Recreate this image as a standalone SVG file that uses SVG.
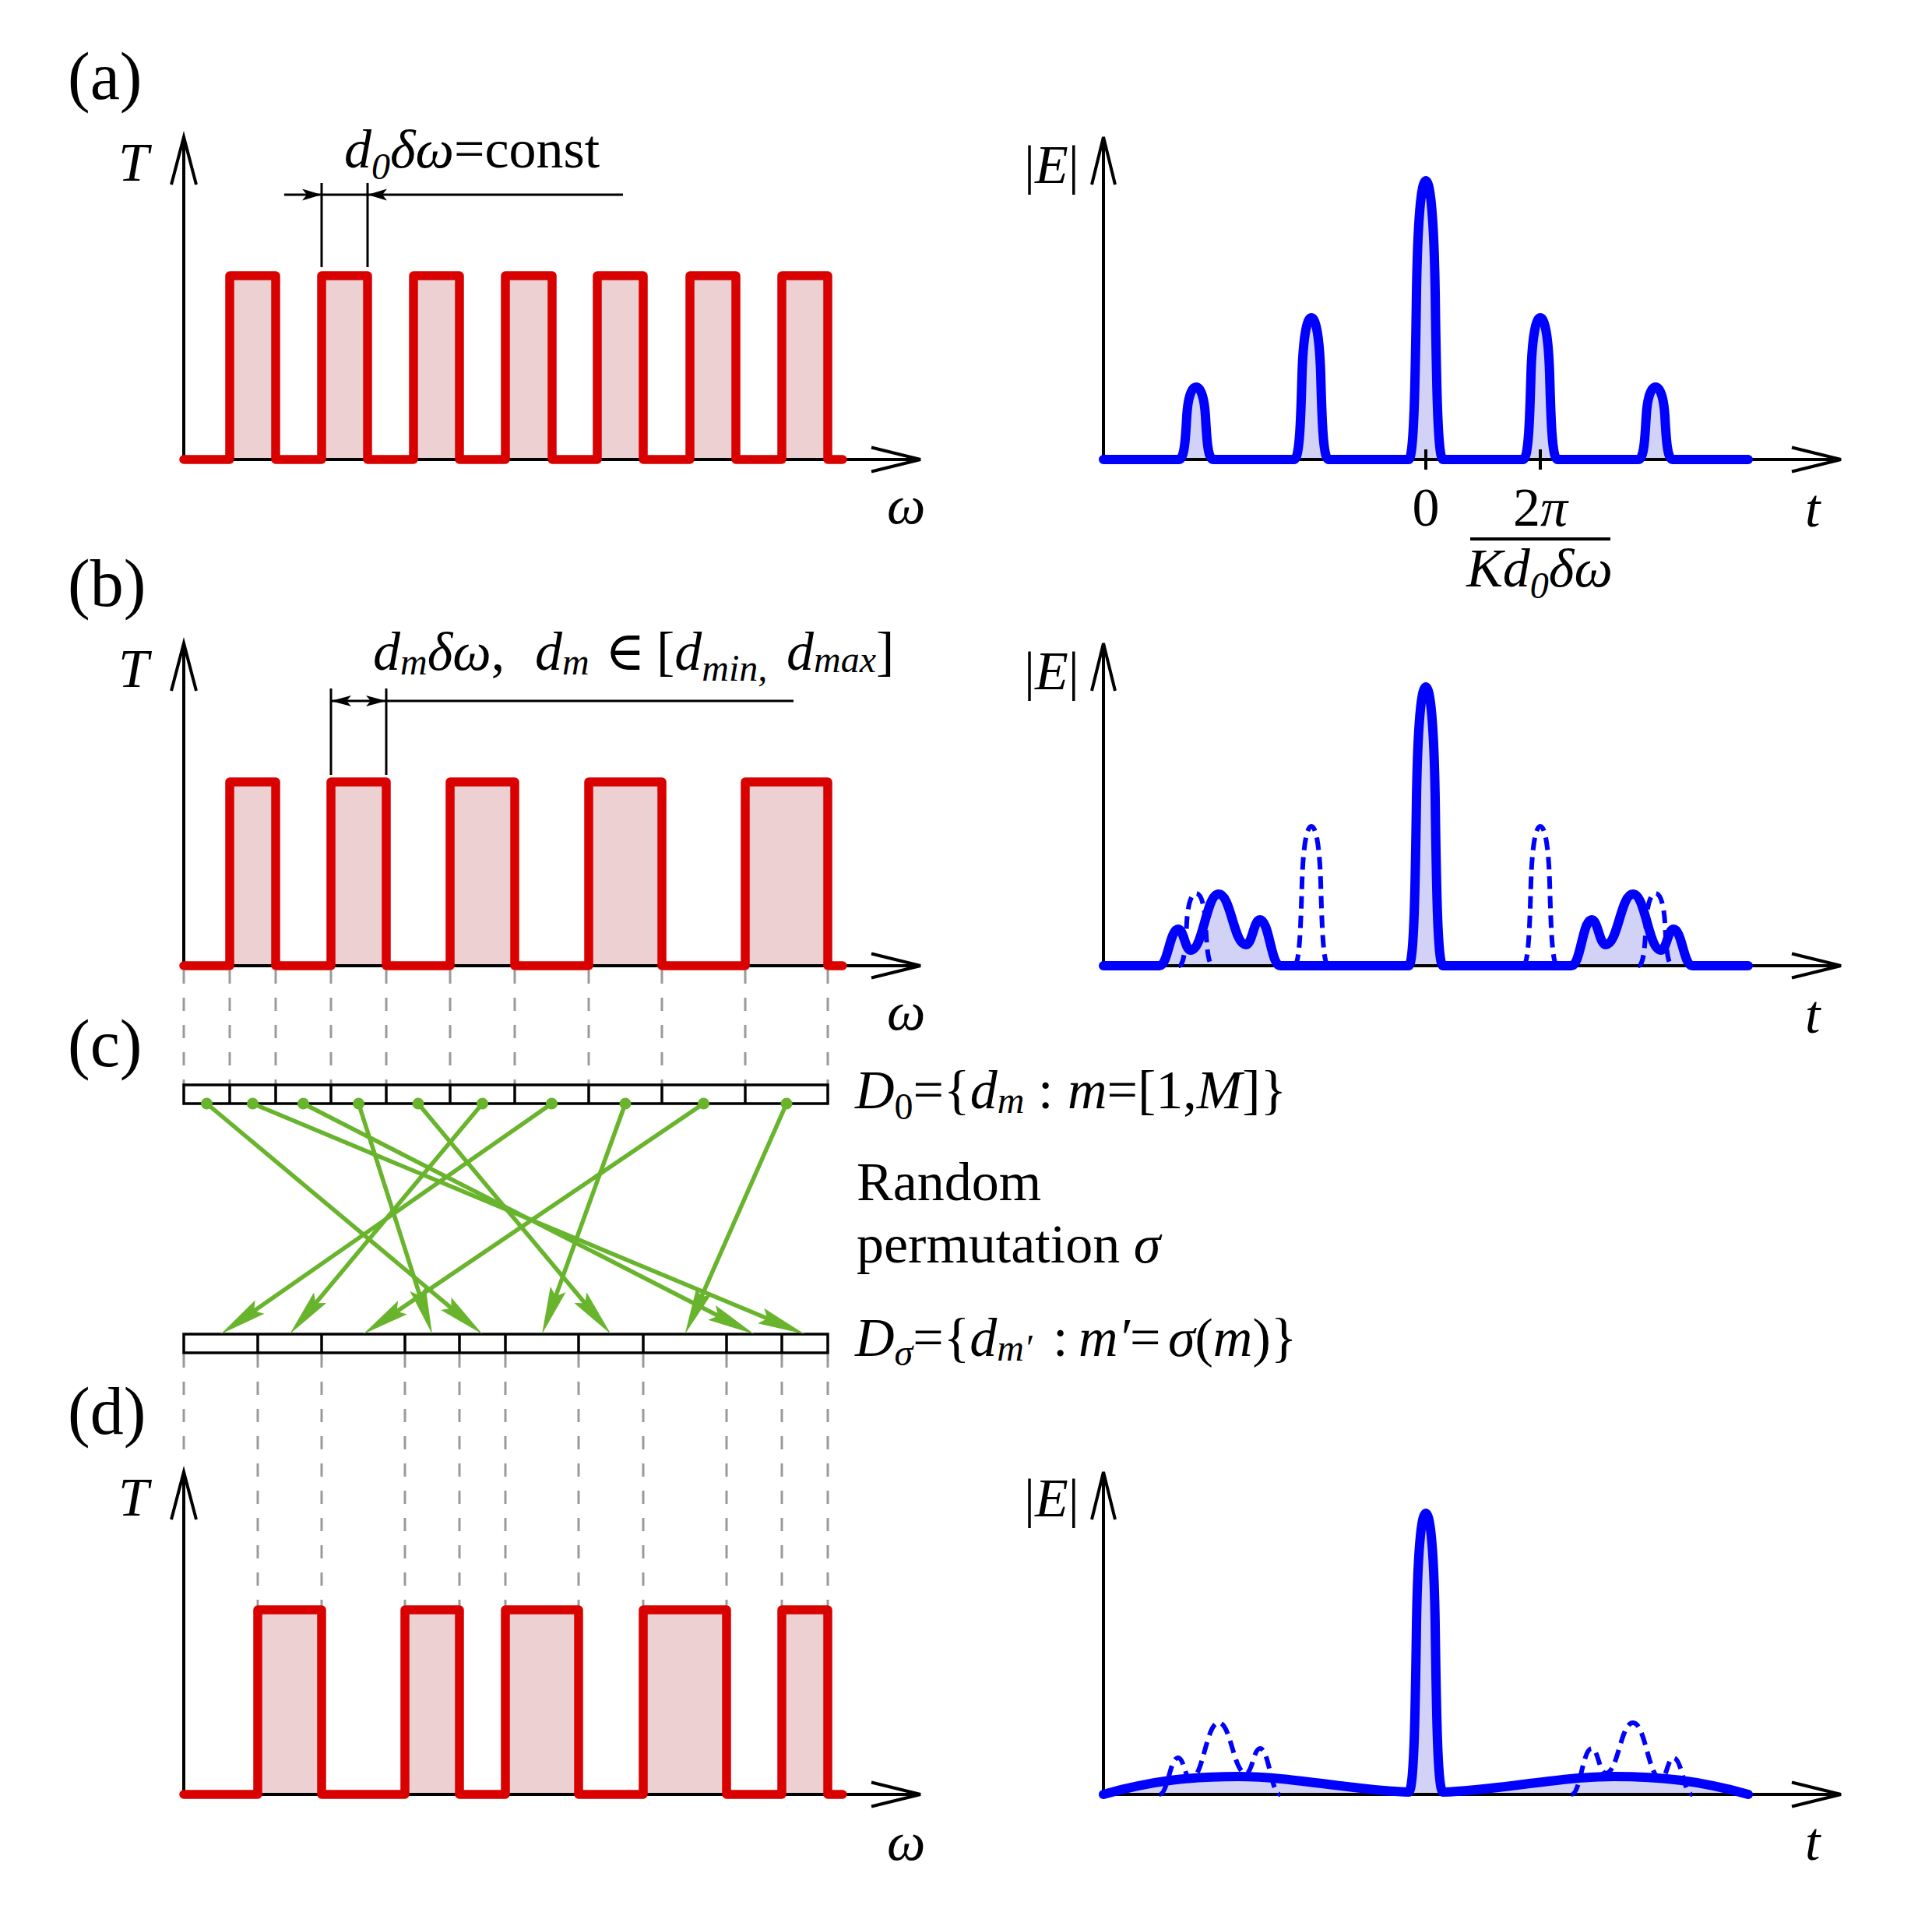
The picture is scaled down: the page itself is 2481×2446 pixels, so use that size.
<svg xmlns="http://www.w3.org/2000/svg" width="2481" height="2446" viewBox="0 0 2481 2446">
<style>
.lbl{font-family:"Liberation Serif","DejaVu Serif",serif;font-size:70px;fill:#000}
.it{font-style:italic}
.up{font-style:normal}
.sub{font-size:48px}
.pl{font-size:86px}
.ax{fill:none;stroke:#000;stroke-width:4}
.dim{fill:none;stroke:#000;stroke-width:3}
.redf{fill:#EDD0D2;stroke:none}
.red{fill:none;stroke:#D90000;stroke-width:11.5;stroke-linejoin:round;stroke-linecap:round}
.bluef{fill:#D2D2F7;stroke:none}
.blue{fill:none;stroke:#0000FF;stroke-width:12;stroke-linejoin:round;stroke-linecap:round}
.bdash{fill:none;stroke:#0000FF;stroke-width:6;stroke-dasharray:16 9}
.gdash{fill:none;stroke:#9A9A9A;stroke-width:3;stroke-dasharray:17 18}
.box{fill:none;stroke:#000;stroke-width:3.5}
.garrow{fill:none;stroke:#69B42D;stroke-width:5.5;marker-end:url(#ga)}
.dot{fill:#69B42D}
</style>
<defs>
<marker id="ga" markerUnits="userSpaceOnUse" orient="auto" viewBox="-60 -60 120 120" markerWidth="120" markerHeight="120" refX="0" refY="0">
<path d="M48,0 L-13,-10.5 L-4,0 L-13,10.5 Z" fill="#69B42D"/>
</marker>
<g id="axL">
<path class="ax" d="M236,590 V176 M220,237 L236,176 L252,237 M236,590 H1182 M1119,574.5 L1182,590 L1119,605.5"/>
</g>
<g id="axR">
<path class="ax" d="M1417,590 V176 M1402,237 L1417,176 L1432,237 M1417,590 H2364 M2301,574.5 L2364,590 L2301,605.5"/>
</g>
</defs>

<!-- panel labels -->
<g id="labels">
<text class="lbl pl" x="87" y="127">(a)</text>
<text class="lbl pl" x="87" y="778">(b)</text>
<text class="lbl pl" x="87" y="1369">(c)</text>
<text class="lbl pl" x="87" y="1841">(d)</text>
</g>

<!-- gray projection lines -->
<g id="projections">
<path class="gdash" d="M236,1246V1393 M295,1246V1393 M354,1246V1393 M425,1246V1393 M496,1246V1393 M578,1246V1393 M661,1246V1393 M756,1246V1393 M850,1246V1393 M957,1246V1393 M1063,1246V1393"/>
<path class="gdash" d="M236,1739V1863 M331,1739V2067 M413,1739V2067 M520,1739V2067 M590,1739V2067 M649,1739V2067 M743,1739V2067 M826,1739V2067 M933,1739V2067 M1004,1739V2067 M1063,1739V2067"/>
</g>

<!-- Panel (a) left -->
<g id="a-T">
<path class="redf" d="M236,590 H295 V354 H354 V590 H413 V354 H472 V590 H531 V354 H590 V590 H649 V354 H709 V590 H767 V354 H826 V590 H886 V354 H945 V590 H1004 V354 H1063 V590 H1082"/>
<use href="#axL"/>
<path class="red" d="M236,590 H295 V354 H354 V590 H413 V354 H472 V590 H531 V354 H590 V590 H649 V354 H709 V590 H767 V354 H826 V590 H886 V354 H945 V590 H1004 V354 H1063 V590 H1082"/>
<path class="dim" d="M413,235 V343 M472,235 V343 M365,250 H800"/>
<path d="M413,250 L388,242.5 L394,250 L388,257.5 Z M472,250 L497,242.5 L491,250 L497,257.5 Z" fill="#000"/>
<text class="lbl it" x="152" y="232">T</text>
<text class="lbl it" x="1139" y="672">ω</text>
<text class="lbl" x="442" y="215"><tspan class="it">d</tspan><tspan class="it sub" dy="15">0</tspan><tspan class="it" dy="-15">δω</tspan>=const</text>
</g>

<!-- Panel (a) right -->
<g id="a-E">
<path class="bluef" d="M1417,590 H1514 c7,0 8.5,-27.9 10,-55.8 c1.5,-24.2 6,-37.2 12,-37.2 c6,0 10.5,13 12,37.2 c1.5,27.9 3,55.8 10,55.8 H1662 c7,0 8.5,-54.6 10,-109.2 c1.5,-47.3 6,-72.8 12,-72.8 c6,0 10.5,25.5 12,72.8 c1.5,54.6 3,109.2 10,109.2 H1809 c7,0 8.5,-107.4 10,-214.8 c1.5,-93.1 6,-143.2 12,-143.2 c6,0 10.5,50.1 12,143.2 c1.5,107.4 3,214.8 10,214.8 H1956 c7,0 8.5,-54.6 10,-109.2 c1.5,-47.3 6,-72.8 12,-72.8 c6,0 10.5,25.5 12,72.8 c1.5,54.6 3,109.2 10,109.2 H2104 c7,0 8.5,-27.9 10,-55.8 c1.5,-24.2 6,-37.2 12,-37.2 c6,0 10.5,13 12,37.2 c1.5,27.9 3,55.8 10,55.8 H2245"/>
<use href="#axR"/>
<path class="ax" d="M1831,577 V603 M1978,577 V603"/>
<path class="blue" d="M1417,590 H1514 c7,0 8.5,-27.9 10,-55.8 c1.5,-24.2 6,-37.2 12,-37.2 c6,0 10.5,13 12,37.2 c1.5,27.9 3,55.8 10,55.8 H1662 c7,0 8.5,-54.6 10,-109.2 c1.5,-47.3 6,-72.8 12,-72.8 c6,0 10.5,25.5 12,72.8 c1.5,54.6 3,109.2 10,109.2 H1809 c7,0 8.5,-107.4 10,-214.8 c1.5,-93.1 6,-143.2 12,-143.2 c6,0 10.5,50.1 12,143.2 c1.5,107.4 3,214.8 10,214.8 H1956 c7,0 8.5,-54.6 10,-109.2 c1.5,-47.3 6,-72.8 12,-72.8 c6,0 10.5,25.5 12,72.8 c1.5,54.6 3,109.2 10,109.2 H2104 c7,0 8.5,-27.9 10,-55.8 c1.5,-24.2 6,-37.2 12,-37.2 c6,0 10.5,13 12,37.2 c1.5,27.9 3,55.8 10,55.8 H2245"/>
<text class="lbl" x="1315" y="235">|<tspan class="it">E</tspan>|</text>
<text class="lbl it" x="2318" y="676">t</text>
<text class="lbl" x="1831" y="675" text-anchor="middle">0</text>
<text class="lbl" x="1978" y="675" text-anchor="middle">2<tspan class="it">π</tspan></text>
<line x1="1888" y1="692" x2="2068" y2="692" stroke="#000" stroke-width="4"/>
<text class="lbl it" x="1977" y="753" text-anchor="middle">Kd<tspan class="sub" dy="15">0</tspan><tspan dy="-15">δω</tspan></text>
</g>

<!-- Panel (b) left -->
<g id="b-T">
<path class="redf" d="M236,1240 H295 V1004 H354 V1240 H425 V1004 H496 V1240 H578 V1004 H661 V1240 H756 V1004 H850 V1240 H957 V1004 H1063 V1240 H1082"/>
<use href="#axL" y="650"/>
<path class="red" d="M236,1240 H295 V1004 H354 V1240 H425 V1004 H496 V1240 H578 V1004 H661 V1240 H756 V1004 H850 V1240 H957 V1004 H1063 V1240 H1082"/>
<path class="dim" d="M425,884 V995 M496,884 V995 M425,900 H1019"/>
<path d="M425,900 L451,893 L445,900 L451,907 Z M496,900 L470,893 L476,900 L470,907 Z" fill="#000"/>
<text class="lbl it" x="152" y="882">T</text>
<text class="lbl it" x="1139" y="1322">ω</text>
<text class="lbl it" x="479" y="860">d<tspan class="sub" dy="6">m</tspan><tspan dy="-6">δω</tspan><tspan class="up">,</tspan><tspan x="687">d</tspan><tspan class="sub" dy="6">m</tspan><tspan class="up" dy="-6" x="777">∈</tspan><tspan class="up" x="843">[</tspan>d<tspan class="sub" dy="14">min,</tspan><tspan x="1010" dy="-14">d</tspan><tspan class="sub" dy="3">max</tspan><tspan class="up" dy="-3">]</tspan></text>
</g>

<!-- Panel (b) right -->
<g id="b-E">
<path class="bluef" d="M1417,1240 H1489 C1499.8,1240 1502.2,1193 1513,1193 C1520.2,1193 1521.8,1220 1529,1220 C1545.2,1220 1548.8,1148 1565,1148 C1580.75,1148 1584.25,1213 1600,1213 C1608.1,1213 1609.9,1181 1618,1181 C1629.7,1181 1632.3,1240 1644,1240 H1809 c7,0 8.5,-107.4 10,-214.8 c1.5,-93.1 6,-143.2 12,-143.2 c6,0 10.5,50.1 12,143.2 c1.5,107.4 3,214.8 10,214.8 H2018 C2029.7,1240 2032.3,1181 2044,1181 C2052.1,1181 2053.9,1213 2062,1213 C2077.75,1213 2081.25,1148 2097,1148 C2113.2,1148 2116.8,1220 2133,1220 C2140.2,1220 2141.8,1193 2149,1193 C2159.8,1193 2162.2,1240 2173,1240 H2245"/>
<use href="#axR" y="650"/>
<g transform="translate(0,650)">
<path class="bdash" d="M1514,590 c7,0 8.5,-27.9 10,-55.8 c1.5,-24.2 6,-37.2 12,-37.2 c6,0 10.5,13 12,37.2 c1.5,27.9 3,55.8 10,55.8 M1662,590 c7,0 8.5,-53.7 10,-107.4 c1.5,-46.5 6,-71.6 12,-71.6 c6,0 10.5,25.1 12,71.6 c1.5,53.7 3,107.4 10,107.4 M1956,590 c7,0 8.5,-53.7 10,-107.4 c1.5,-46.5 6,-71.6 12,-71.6 c6,0 10.5,25.1 12,71.6 c1.5,53.7 3,107.4 10,107.4 M2104,590 c7,0 8.5,-27.9 10,-55.8 c1.5,-24.2 6,-37.2 12,-37.2 c6,0 10.5,13 12,37.2 c1.5,27.9 3,55.8 10,55.8"/>
</g>
<path class="blue" d="M1417,1240 H1489 C1499.8,1240 1502.2,1193 1513,1193 C1520.2,1193 1521.8,1220 1529,1220 C1545.2,1220 1548.8,1148 1565,1148 C1580.75,1148 1584.25,1213 1600,1213 C1608.1,1213 1609.9,1181 1618,1181 C1629.7,1181 1632.3,1240 1644,1240 H1809 c7,0 8.5,-107.4 10,-214.8 c1.5,-93.1 6,-143.2 12,-143.2 c6,0 10.5,50.1 12,143.2 c1.5,107.4 3,214.8 10,214.8 H2018 C2029.7,1240 2032.3,1181 2044,1181 C2052.1,1181 2053.9,1213 2062,1213 C2077.75,1213 2081.25,1148 2097,1148 C2113.2,1148 2116.8,1220 2133,1220 C2140.2,1220 2141.8,1193 2149,1193 C2159.8,1193 2162.2,1240 2173,1240 H2245"/>
<text class="lbl" x="1315" y="885">|<tspan class="it">E</tspan>|</text>
<text class="lbl it" x="2318" y="1326">t</text>
</g>

<!-- Panel (c) -->
<g id="D0">
<rect class="box" x="236" y="1393" width="827" height="24"/>
<path class="box" d="M295,1393V1417 M354,1393V1417 M425,1393V1417 M496,1393V1417 M578,1393V1417 M661,1393V1417 M756,1393V1417 M850,1393V1417 M957,1393V1417"/>
<text class="lbl" x="1098" y="1423"><tspan class="it">D</tspan><tspan class="sub" dy="14">0</tspan><tspan dy="-14">={</tspan><tspan class="it">d</tspan><tspan class="it sub" dy="6">m</tspan><tspan dy="-6" x="1333">:</tspan><tspan class="it" x="1371">m</tspan>=[1,<tspan class="it">M</tspan>]}</text>
</g>
<g id="Dsigma">
<rect class="box" x="236" y="1713" width="827" height="24"/>
<path class="box" d="M331,1713V1737 M413,1713V1737 M520,1713V1737 M590,1713V1737 M649,1713V1737 M743,1713V1737 M826,1713V1737 M933,1713V1737 M1004,1713V1737"/>
<text class="lbl" x="1098" y="1741"><tspan class="it">D</tspan><tspan class="it sub" dy="12">σ</tspan><tspan dy="-12">={</tspan><tspan class="it">d</tspan><tspan class="it sub" dy="6">m′</tspan><tspan dy="-6" x="1352">:</tspan><tspan class="it" x="1385">m′</tspan>=<tspan class="it" x="1500">σ</tspan>(<tspan class="it">m</tspan>)}</text>
</g>
<g id="perm-label">
<text class="lbl" x="1100" y="1541">Random</text>
<text class="lbl" x="1100" y="1621">permutation <tspan class="it">σ</tspan></text>
</g>
<g id="connectors">
<path class="garrow" d="M265.5,1417 L582.7,1682.2"/>
<path class="garrow" d="M324.5,1417 L989.2,1694.5"/>
<path class="garrow" d="M389.5,1417 L925.8,1691.2"/>
<path class="garrow" d="M460.5,1417 L540.4,1667.3"/>
<path class="garrow" d="M537,1417 L753.7,1676.2"/>
<path class="garrow" d="M619.5,1417 L402.8,1676.2"/>
<path class="garrow" d="M708.5,1417 L322.9,1685.6"/>
<path class="garrow" d="M803,1417 L712.3,1667.9"/>
<path class="garrow" d="M903.5,1417 L506.2,1686.1"/>
<path class="garrow" d="M1010,1417 L898.9,1669.1"/>
<circle class="dot" cx="265.5" cy="1417" r="7.5"/>
<circle class="dot" cx="324.5" cy="1417" r="7.5"/>
<circle class="dot" cx="389.5" cy="1417" r="7.5"/>
<circle class="dot" cx="460.5" cy="1417" r="7.5"/>
<circle class="dot" cx="537" cy="1417" r="7.5"/>
<circle class="dot" cx="619.5" cy="1417" r="7.5"/>
<circle class="dot" cx="708.5" cy="1417" r="7.5"/>
<circle class="dot" cx="803" cy="1417" r="7.5"/>
<circle class="dot" cx="903.5" cy="1417" r="7.5"/>
<circle class="dot" cx="1010" cy="1417" r="7.5"/>
</g>

<!-- Panel (d) left -->
<g id="d-T">
<path class="redf" d="M236,2304 H331 V2067 H413 V2304 H520 V2067 H590 V2304 H649 V2067 H743 V2304 H826 V2067 H933 V2304 H1004 V2067 H1063 V2304 H1082"/>
<use href="#axL" y="1714"/>
<path class="red" d="M236,2304 H331 V2067 H413 V2304 H520 V2067 H590 V2304 H649 V2067 H743 V2304 H826 V2067 H933 V2304 H1004 V2067 H1063 V2304 H1082"/>
<text class="lbl it" x="152" y="1946">T</text>
<text class="lbl it" x="1139" y="2388">ω</text>
</g>

<!-- Panel (d) right -->
<g id="d-E">
<path class="bluef" d="M1417,2304 C1480,2286 1530,2281 1590,2281 C1660,2281 1740,2299 1809,2301 c7,0 8.5,-107.4 10,-214.8 c1.5,-93.1 6,-143.2 12,-143.2 c6,0 10.5,50.1 12,143.2 c1.5,107.4 3,214.8 10,214.8 C1922,2299 2002,2281 2072,2281 C2132,2281 2182,2286 2245,2304"/>
<use href="#axR" y="1714"/>
<g transform="translate(0,1064)">
<path class="bdash" d="M1489,1240 C1499.8,1240 1502.2,1193 1513,1193 C1520.2,1193 1521.8,1220 1529,1220 C1545.2,1220 1548.8,1148 1565,1148 C1580.75,1148 1584.25,1213 1600,1213 C1608.1,1213 1609.9,1181 1618,1181 C1629.7,1181 1632.3,1240 1644,1240 M2018,1240 C2029.7,1240 2032.3,1181 2044,1181 C2052.1,1181 2053.9,1213 2062,1213 C2077.75,1213 2081.25,1148 2097,1148 C2113.2,1148 2116.8,1220 2133,1220 C2140.2,1220 2141.8,1193 2149,1193 C2159.8,1193 2162.2,1240 2173,1240"/>
</g>
<path class="blue" d="M1417,2304 C1480,2286 1530,2281 1590,2281 C1660,2281 1740,2299 1809,2301 c7,0 8.5,-107.4 10,-214.8 c1.5,-93.1 6,-143.2 12,-143.2 c6,0 10.5,50.1 12,143.2 c1.5,107.4 3,214.8 10,214.8 C1922,2299 2002,2281 2072,2281 C2132,2281 2182,2286 2245,2304"/>
<text class="lbl" x="1315" y="1947">|<tspan class="it">E</tspan>|</text>
<text class="lbl it" x="2318" y="2388">t</text>
</g>
</svg>
